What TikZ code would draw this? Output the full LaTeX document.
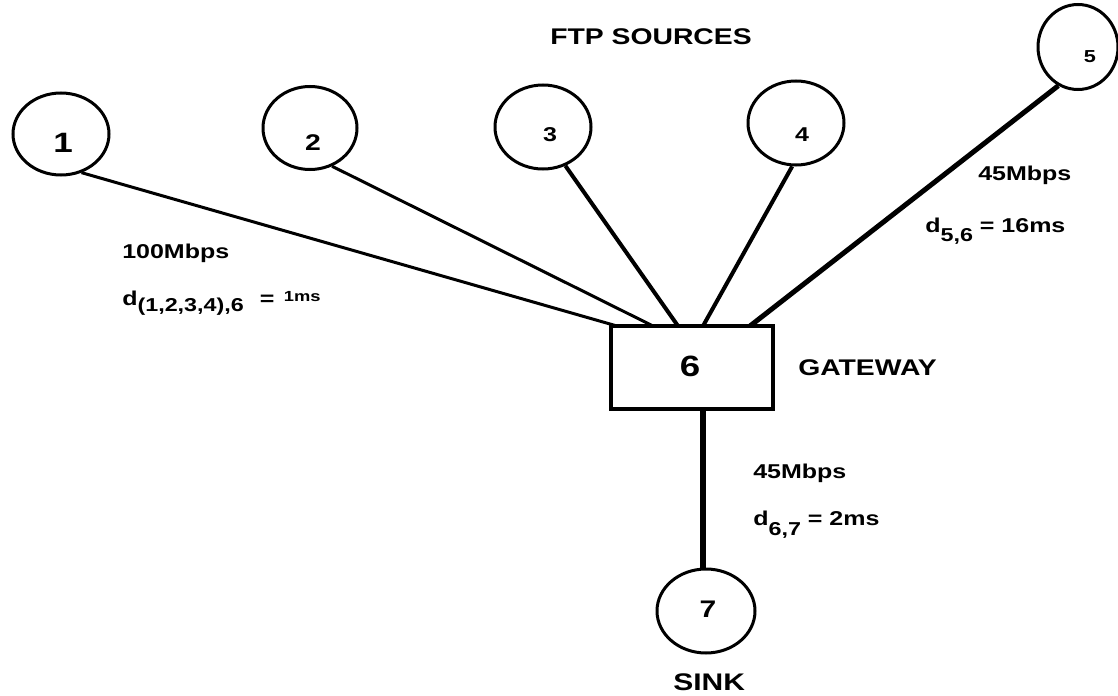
\documentclass[tikz,border=0pt]{standalone}
\usepackage{fontspec}
\setmainfont{Liberation Sans}[FakeStretch=1.25]
\usetikzlibrary{shapes.geometric}
\newcommand{\subtxt}[2]{\raisebox{-#1}{\fontsize{14}{14}\selectfont #2}}
\begin{document}
\begin{tikzpicture}[x=0.75pt,y=-0.75pt,
  src/.style={draw, ellipse, line width=2.25pt, inner sep=0pt, minimum width=#1},
  src/.default=72pt,
  gw/.style={draw, rectangle, line width=3.4pt, inner sep=0pt, minimum width=121.5pt, minimum height=62.25pt},
  num/.style={font=\bfseries\fontsize{#1}{#1}\selectfont, inner sep=0pt},
  lbl/.style={font=\bfseries\fontsize{15}{15}\selectfont, inner sep=0pt, anchor=base west},
  big/.style={font=\bfseries\fontsize{17}{17}\selectfont, inner sep=0pt, anchor=base west},
  thin/.style={line width=2.25pt},
  mid/.style={line width=3pt},
  thick/.style={line width=3.75pt},
  heavy/.style={line width=4.5pt}]
\useasboundingbox (0,0) rectangle (1118,696);
% nodes
\node[src, minimum height=61.5pt] (c1) at (61,134) {};
\node[src=70.5pt, minimum height=62.25pt] (c2) at (310,128) {};
\node[src, minimum height=63pt] (c3) at (543,127) {};
\node[src, minimum height=63pt] (c4) at (796,123) {};
\node[src=60pt, minimum height=63.75pt] (c5) at (1078,47) {};
\node[gw] (g6) at (692,367.5) {};
\node[src=73.5pt, minimum height=63pt] (c7) at (706,611) {};
% digits
\node[num=21] (l1) at (63,143) {1};
\node[num=17] (l2) at (313,143) {2};
\node[num=15] (l3) at (550,135) {3};
\node[num=15] (l4) at (802,135) {4};
\node[num=13] (l5) at (1090,57) {5};
\node[num=22] (l6) at (690,366) {6};
\node[num=18] (l7) at (708,609) {7};
% connectors
\coordinate (e1) at (617,326);
\coordinate (e2) at (653,326);
\coordinate (e3) at (678,326);
\coordinate (e4) at (703,326);
\coordinate (e5) at (750,326);
\coordinate (e7) at (703,409);
\draw[thin]  (c1.-62)  -- (e1);
\draw[thin]  (c2.-60)  -- (e2);
\draw[mid]   (c3.-60)  -- (e3);
\draw[mid]   (c4.-95)  -- (e4);
\draw[thick] (c5.-117) -- (e5);
\draw[heavy] (e7) -- (e7 |- c7.north);
% labels
\node[big] (t0) at (550,45) {FTP SOURCES};
\node[lbl] (t1) at (122,258) {100Mbps};
\node[lbl] (t2) at (122,305) {d\subtxt{5pt}{(1,2,3,4),6}\hspace{12pt}=\hspace{7pt}\raisebox{3pt}{\fontsize{11}{11}\selectfont 1ms}};
\node[lbl] (t3) at (978,180) {45Mbps};
\node[lbl] (t4) at (925,232) {d\subtxt{7pt}{5,6} = 16ms};
\node[big] (t5) at (798,375) {GATEWAY};
\node[lbl] (t6) at (753,478) {45Mbps};
\node[lbl] (t7) at (753,525) {d\subtxt{8pt}{6,7} = 2ms};
\node[big, font=\bfseries\fontsize{18}{18}\selectfont] (t8) at (673,690) {SINK};
\end{tikzpicture}
\end{document}
